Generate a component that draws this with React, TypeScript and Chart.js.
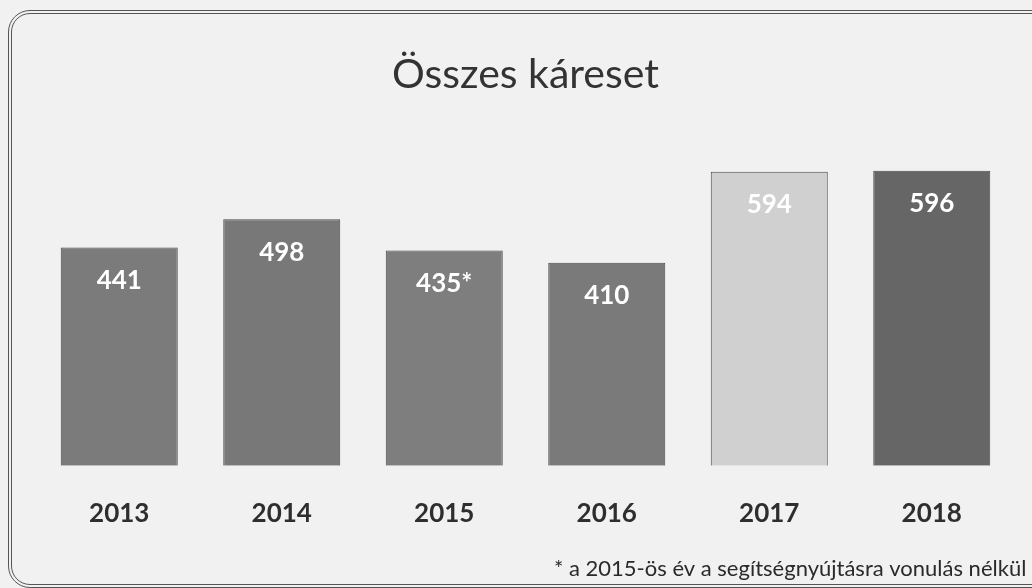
import React, { useEffect, useRef } from "react";
import { Chart, registerables } from "chart.js";

Chart.register(...registerables);

const years = ["2013", "2014", "2015", "2016", "2017", "2018"];
const cases = [441, 498, 435, 410, 594, 596];
const labelSuffix = ["", "", "*", "", "", ""];
const barColors = ["#7b7b7b", "#787878", "#7e7e7e", "#7a7a7a", "#d0d0d0", "#666666"];
const titleText = "Összes káreset";
const footnote = "* a 2015-ös év a segítségnyújtásra vonulás nélkül";

const FONT = "Lato, 'Open Sans', sans-serif";

const valueLabels = {
  id: "valueLabels",
  afterDatasetsDraw(chart: any) {
    const ctx = chart.ctx;
    const meta = chart.getDatasetMeta(0);
    ctx.save();
    ctx.fillStyle = "#ffffff";
    ctx.font = `bold 26px ${FONT}`;
    ctx.textAlign = "center";
    ctx.textBaseline = "middle";
    meta.data.forEach((bar: any, i: number) => {
      ctx.fillText(String(cases[i]) + labelSuffix[i], bar.x, bar.y + 33);
    });
    ctx.restore();
  },
};

const footnotePlugin = {
  id: "footnote",
  afterDraw(chart: any) {
    const ctx = chart.ctx;
    ctx.save();
    ctx.fillStyle = "#2a2a2a";
    ctx.font = `22px ${FONT}`;
    ctx.textAlign = "left";
    ctx.textBaseline = "middle";
    ctx.fillText(footnote, 554, 569);
    ctx.restore();
  },
};

const bgPlugin = {
  id: "bg",
  beforeDraw(chart: any) {
    const ctx = chart.ctx;
    ctx.save();
    ctx.fillStyle = "#f1f1f1";
    ctx.fillRect(0, 0, chart.width, chart.height);
    ctx.restore();
  },
};

export default function App() {
  const ref = useRef<HTMLCanvasElement>(null);
  useEffect(() => {
    document.body.style.margin = "0";
    const chart = new Chart(ref.current!, {
      type: "bar",
      data: {
        labels: years,
        datasets: [
          {
            data: cases,
            backgroundColor: barColors,
            borderColor: "#4a4a4a",
            borderWidth: 1,
            barPercentage: 0.72,
            categoryPercentage: 1,
          },
        ],
      },
      options: {
        animation: false,
        responsive: false,
        layout: { padding: { left: 38, right: 19, top: 0, bottom: 27 } },
        plugins: {
          legend: { display: false },
          tooltip: { enabled: false },
          title: {
            display: true,
            text: titleText,
            color: "#333333",
            font: { family: FONT, size: 41, weight: "normal" },
            padding: { top: 50, bottom: 20 },
          },
        },
        scales: {
          y: { display: false, min: 0, max: 700 },
          x: {
            grid: { display: false, drawTicks: false },
            border: { display: false },
            ticks: {
              color: "#2e2e2e",
              padding: 32,
              font: { family: FONT, size: 26, weight: "bold" },
            },
          },
        },
      },
      plugins: [bgPlugin, valueLabels, footnotePlugin],
    });
    return () => chart.destroy();
  }, []);
  return (
    <div style={{ position: "absolute", left: 0, top: 0, width: 1032, height: 588, overflow: "hidden" }}>
      <canvas ref={ref} width={1032} height={588} style={{ display: "block" }} />
      <div
        style={{
          position: "absolute",
          left: 8,
          top: 10,
          width: 1040,
          height: 570,
          border: "4px double #555",
          borderRadius: 22,
          pointerEvents: "none",
        }}
      />
    </div>
  );
}
